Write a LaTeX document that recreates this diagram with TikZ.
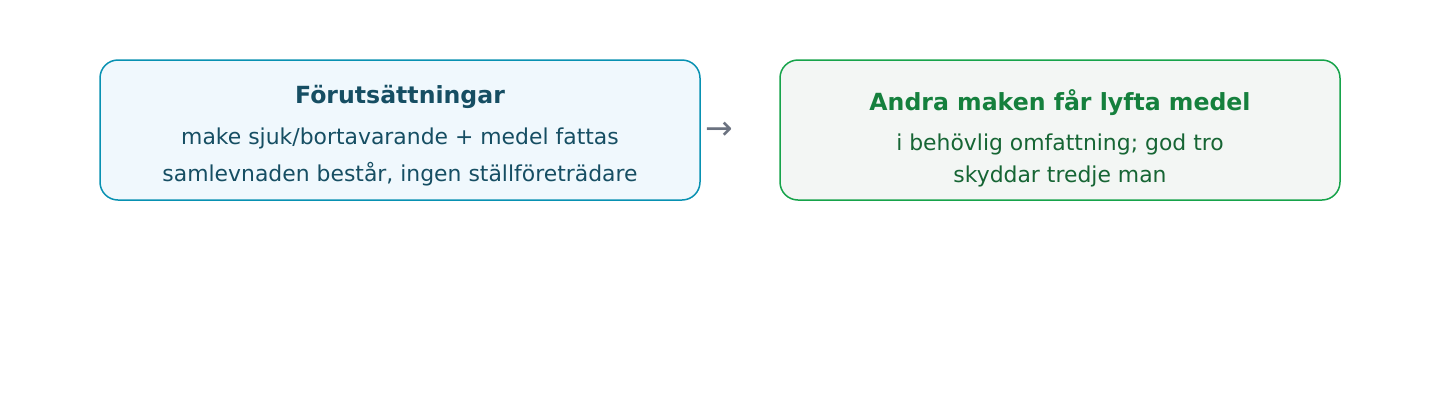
\documentclass[tikz,border=0pt]{standalone}
\usepackage{fontspec}
\setmainfont{DejaVu Sans}
\usepackage{tikz}
\usetikzlibrary{backgrounds}
\definecolor{condline}{HTML}{0891B2}
\definecolor{condfill}{HTML}{F0F8FD}
\definecolor{condtext}{HTML}{164E63}
\definecolor{resline}{HTML}{16A34A}
\definecolor{resfill}{HTML}{F3F6F4}
\definecolor{restitle}{HTML}{15803D}
\definecolor{restext}{HTML}{166534}
\definecolor{arrowgray}{HTML}{6B7280}
\tikzstyle{condbox}=[draw=condline, fill=condfill, line width=1.5pt, rounded corners=18pt]
\tikzstyle{resbox}=[draw=resline, fill=resfill, line width=1.5pt, rounded corners=18pt]
\tikzstyle{headline}=[font=\fontsize{23.6}{26}\selectfont\bfseries]
\tikzstyle{bodyline}=[font=\fontsize{21.9}{24}\selectfont]

\begin{document}
\begin{tikzpicture}[x=1pt, y=-1pt]
 \useasboundingbox (0,0) rectangle (1440,400);
 \fill[white] (0,0) rectangle (1440,400);
%
 \draw[condbox] (100,60) rectangle (700,200);
 \node[headline, text=condtext] (condhead) at (400,97) {Förutsättningar};
 \node[bodyline, text=condtext] (condone) at (400,138) {make sjuk/bortavarande + medel fattas};
 \node[bodyline, text=condtext] (condtwo) at (400,174) {samlevnaden består, ingen ställföreträdare};
%
 \node[text=arrowgray, font=\fontsize{33}{33}\selectfont] (step) at (719,131) {→};
%
 \draw[resbox] (780,60) rectangle (1340,200);
 \node[headline, text=restitle] (reshead) at (1060,103) {Andra maken får lyfta medel};
 \node[bodyline, text=restext] (resone) at (1060,144) {i behövlig omfattning; god tro};
 \node[bodyline, text=restext] (restwo) at (1060,176) {skyddar tredje man};
\end{tikzpicture}
\end{document}
